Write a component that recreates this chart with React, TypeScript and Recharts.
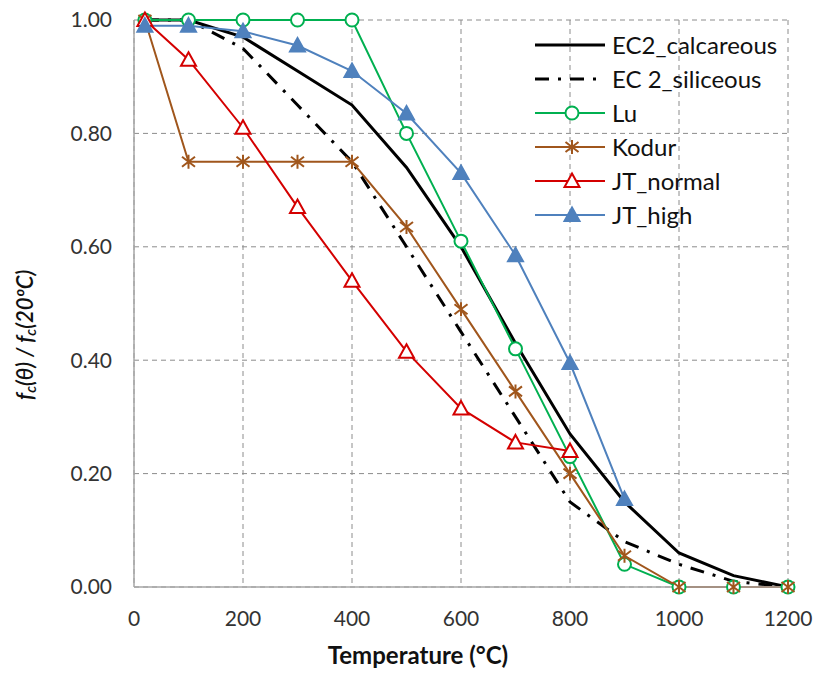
import React from "react";
import { LineChart, Line, XAxis, YAxis, CartesianGrid, Legend } from "recharts";

const temps = [20, 100, 200, 300, 400, 500, 600, 700, 800, 900, 1000, 1100, 1200];
const ec2Calcareous = [1.0, 1.0, 0.97, 0.91, 0.85, 0.74, 0.6, 0.43, 0.27, 0.15, 0.06, 0.02, 0.0];
const ec2Siliceous = [1.0, 1.0, 0.95, 0.85, 0.75, 0.6, 0.45, 0.3, 0.15, 0.08, 0.04, 0.01, 0.0];
const lu = [1.0, 1.0, 1.0, 1.0, 1.0, 0.8, 0.61, 0.42, 0.23, 0.04, 0.0, 0.0, 0.0];
const kodur = [1.0, 0.75, 0.75, 0.75, 0.75, 0.635, 0.49, 0.345, 0.2, 0.055, 0.0, 0.0, 0.0];
const jtNormal = [1.0, 0.93, 0.81, 0.67, 0.54, 0.415, 0.315, 0.255, 0.24, null, null, null, null];
const jtHigh = [0.99, 0.99, 0.98, 0.955, 0.91, 0.835, 0.73, 0.585, 0.395, 0.155, null, null, null];

const xTicks = [0, 200, 400, 600, 800, 1000, 1200];
const yTicks = [0, 0.2, 0.4, 0.6, 0.8, 1.0];

const data = temps.map((t, i) => ({
  t,
  ec2c: ec2Calcareous[i],
  ec2s: ec2Siliceous[i],
  lu: lu[i],
  kodur: kodur[i],
  jtn: jtNormal[i],
  jth: jtHigh[i],
}));

const C_GREEN = "#00B050";
const C_BROWN = "#A0561C";
const C_RED = "#D40000";
const C_BLUE = "#4F81BD";
const FONT = "Lato, 'Open Sans', sans-serif";

function CircleMark({ cx, cy }: { cx: number; cy: number }) {
  return <circle cx={cx} cy={cy} r={6.5} fill="#fff" stroke={C_GREEN} strokeWidth={2} />;
}
function StarMark({ cx, cy }: { cx: number; cy: number }) {
  const d = `M${cx},${cy - 7}L${cx},${cy + 7}M${cx - 6.5},${cy - 5}L${cx + 6.5},${cy + 5}M${cx - 6.5},${cy + 5}L${cx + 6.5},${cy - 5}`;
  return <path d={d} stroke={C_BROWN} strokeWidth={2} fill="none" />;
}
function TriMark({ cx, cy, fill, stroke }: { cx: number; cy: number; fill: string; stroke: string }) {
  const d = `M${cx},${cy - 7.5}L${cx + 7.5},${cy + 6}L${cx - 7.5},${cy + 6}Z`;
  return <path d={d} fill={fill} stroke={stroke} strokeWidth={2} strokeLinejoin="miter" />;
}

const mkDot = (kind: string) => (props: any) => {
  const { cx, cy, index, value } = props;
  const key = `${kind}-${index}`;
  if (cx == null || cy == null || value == null || isNaN(cy)) return <g key={key} />;
  if (kind === "lu") return <g key={key}><CircleMark cx={cx} cy={cy} /></g>;
  if (kind === "kodur") return <g key={key}><StarMark cx={cx} cy={cy} /></g>;
  if (kind === "jtn") return <g key={key}><TriMark cx={cx} cy={cy} fill="#fff" stroke={C_RED} /></g>;
  return <g key={key}><TriMark cx={cx} cy={cy} fill={C_BLUE} stroke={C_BLUE} /></g>;
};

const legendItems = [
  { name: "EC2_calcareous", color: "#000", width: 3, dash: undefined as string | undefined, mark: "" },
  { name: "EC 2_siliceous", color: "#000", width: 3, dash: "14 9 3 9", mark: "" },
  { name: "Lu", color: C_GREEN, width: 2, dash: undefined, mark: "lu" },
  { name: "Kodur", color: C_BROWN, width: 2, dash: undefined, mark: "kodur" },
  { name: "JT_normal", color: C_RED, width: 2, dash: undefined, mark: "jtn" },
  { name: "JT_high", color: C_BLUE, width: 2, dash: undefined, mark: "jth" },
];

const renderLegend = () => (
  <svg width={280} height={220} style={{ display: "block", position: "absolute", left: 0, top: 0 }}>
    {legendItems.map((it, i) => {
      const y = 15 + i * 34;
      return (
        <g key={it.name}>
          <line x1={5} x2={75} y1={y} y2={y} stroke={it.color} strokeWidth={it.width} strokeDasharray={it.dash} />
          {it.mark === "lu" && <CircleMark cx={42} cy={y} />}
          {it.mark === "kodur" && <StarMark cx={42} cy={y} />}
          {it.mark === "jtn" && <TriMark cx={42} cy={y} fill="#fff" stroke={C_RED} />}
          {it.mark === "jth" && <TriMark cx={42} cy={y} fill={C_BLUE} stroke={C_BLUE} />}
          <text x={82} y={y} dy="0.36em" fontFamily={FONT} fontSize={24} fill="#111">
            {it.name}
          </text>
        </g>
      );
    })}
  </svg>
);

const XTitle = () => (
  <text x={418} y={658} textAnchor="middle" dominantBaseline="middle" fontFamily={FONT} fontWeight="bold" fontSize={24} fill="#111">
    Temperature (°C)
  </text>
);

const YTitle = () => (
  <text
    x={0}
    y={0}
    transform="translate(27,400) rotate(-90)"
    textAnchor="start"
    dominantBaseline="middle"
    fontFamily={FONT}
    fontStyle="italic"
    fontWeight={600}
    fontSize={22}
    fill="#111"
  >
    <tspan>f</tspan>
    <tspan fontSize={15} dy={5}>c</tspan>
    <tspan dy={-5}>(θ) / f</tspan>
    <tspan fontSize={15} dy={5}>c</tspan>
    <tspan dy={-5}>(20ºC)</tspan>
  </text>
);

export default function App() {
  return (
    <div style={{ position: "absolute", left: 0, top: 0, width: 819, height: 673, background: "#fff" }}>
      <LineChart width={819} height={673} data={data} margin={{ top: 20, right: 31, bottom: 0, left: 0 }}>
        <CartesianGrid stroke="#8C8C8C" strokeDasharray="5 4" strokeWidth={1} />
        <XAxis
          dataKey="t"
          type="number"
          domain={[0, 1200]}
          ticks={xTicks}
          height={86}
          tickLine={false}
          tickSize={0}
          tickMargin={24}
          axisLine={{ stroke: "#A6A6A6", strokeWidth: 1.5 }}
          tick={{ fontFamily: FONT, fontSize: 21, fill: "#333" }}
          label={<XTitle />}
        />
        <YAxis
          type="number"
          domain={[0, 1]}
          ticks={yTicks}
          width={134}
          tickLine={false}
          tickSize={0}
          tickMargin={22}
          axisLine={{ stroke: "#A6A6A6", strokeWidth: 1.5 }}
          tickFormatter={(v: number) => v.toFixed(2)}
          tick={{ fontFamily: FONT, fontSize: 21, fill: "#333" }}
          label={<YTitle />}
        />
        <Legend
          content={renderLegend}
          layout="horizontal"
          verticalAlign="bottom"
          wrapperStyle={{ position: "absolute", left: 530, top: 30, width: 280, height: 0, overflow: "visible" }}
        />
        <Line dataKey="ec2c" stroke="#000" strokeWidth={3} dot={false} isAnimationActive={false} />
        <Line dataKey="ec2s" stroke="#000" strokeWidth={3} strokeDasharray="14 9 3 9" dot={false} isAnimationActive={false} />
        <Line dataKey="lu" stroke={C_GREEN} strokeWidth={2} dot={mkDot("lu")} isAnimationActive={false} />
        <Line dataKey="kodur" stroke={C_BROWN} strokeWidth={2} dot={mkDot("kodur")} isAnimationActive={false} />
        <Line dataKey="jtn" stroke={C_RED} strokeWidth={2} dot={mkDot("jtn")} isAnimationActive={false} />
        <Line dataKey="jth" stroke={C_BLUE} strokeWidth={2} dot={mkDot("jth")} isAnimationActive={false} />
      </LineChart>
    </div>
  );
}
